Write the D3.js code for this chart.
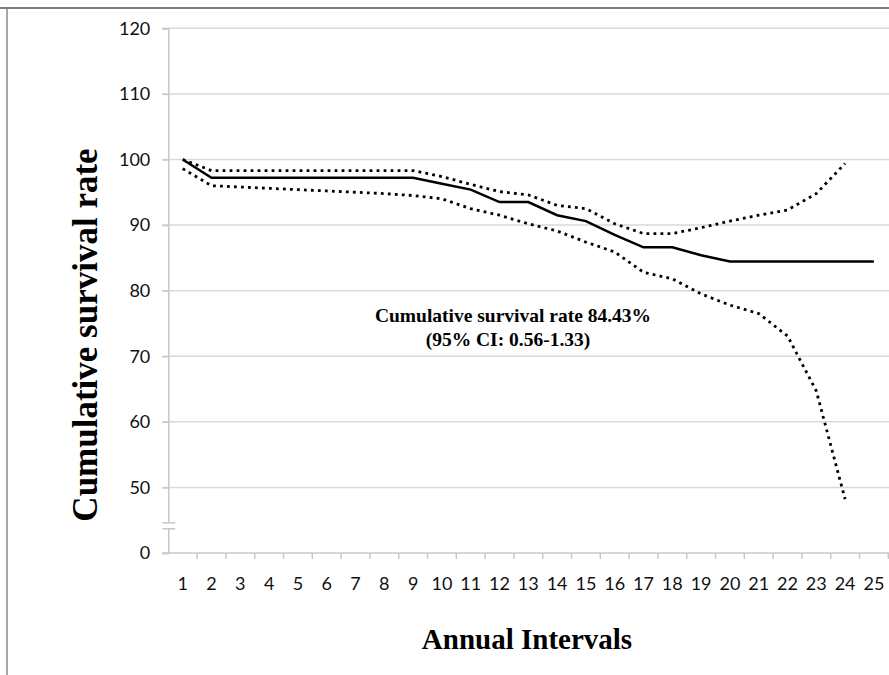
<!DOCTYPE html>
<html><head><meta charset="utf-8">
<script src="https://cdn.jsdelivr.net/npm/d3@7"></script>
<style>body{margin:0;background:#fff;} svg{display:block;}</style>
</head><body>
<svg id="chart" width="889" height="675"></svg>
<script>
const years = d3.range(1, 26).map(String);
const survival = [100, 97.2, 97.2, 97.2, 97.2, 97.2, 97.2, 97.2, 97.2, 96.3, 95.4, 93.5, 93.5, 91.5, 90.6, 88.5, 86.6, 86.6, 85.4, 84.43, 84.43, 84.43, 84.43, 84.43, 84.43];
const upperCI = [100, 98.3, 98.3, 98.3, 98.3, 98.3, 98.3, 98.3, 98.3, 97.4, 96.2, 95.1, 94.6, 93.0, 92.5, 90.2, 88.7, 88.7, 89.6, 90.6, 91.5, 92.3, 94.8, 99.4];
const lowerCI = [98.6, 96.0, 95.8, 95.6, 95.4, 95.2, 95.0, 94.8, 94.5, 94.0, 92.5, 91.5, 90.2, 89.1, 87.4, 85.9, 82.8, 81.8, 79.5, 77.8, 76.5, 73.1, 64.7, 48.2];
const yTickValues = [40, 50, 60, 70, 80, 90, 100, 110, 120];
const yTickLabels = ["0", "50", "60", "70", "80", "90", "100", "110", "120"];
const annotation = ["Cumulative survival rate 84.43%", "(95% CI: 0.56-1.33)"];

(function () {
const svg = d3.select("#chart");
const pLeft = 168.3, pRight = 888.3, pTop = 28.3, pBottom = 553;
const tickFont = "Lato, 'Open Sans', sans-serif";
const serif = "'Liberation Serif', 'Times New Roman', serif";

// frame
svg.append("line").attr("x1", 0).attr("x2", 889).attr("y1", 8).attr("y2", 8).attr("stroke", "#555").attr("stroke-width", 1.5);
svg.append("line").attr("x1", 7).attr("x2", 7).attr("y1", 8).attr("y2", 675).attr("stroke", "#777").attr("stroke-width", 1.3);

const x = d3.scaleBand().domain(years).range([pLeft, pRight]);
const y = d3.scaleLinear().domain([40, 120]).range([pBottom, pTop]);

// gridlines
svg.append("g").selectAll("line").data(yTickValues.slice(1)).join("line")
  .attr("x1", pLeft - 6).attr("x2", 889)
  .attr("y1", d => y(d)).attr("y2", d => y(d))
  .attr("stroke", "#d9d9d9").attr("stroke-width", 1.5);

// y axis
const yAxis = svg.append("g").attr("transform", `translate(${pLeft},0)`)
  .call(d3.axisLeft(y).tickValues(yTickValues).tickFormat((d, i) => yTickLabels[i]).tickSize(6).tickPadding(12));
yAxis.select(".domain").attr("stroke", "#c8c8c8").attr("stroke-width", 1.5);
yAxis.selectAll(".tick line").attr("stroke", "#c8c8c8").attr("stroke-width", 1.5);
yAxis.selectAll("text").attr("font-family", tickFont).attr("font-size", 18).attr("fill", "#111");

// x axis
const xAxis = svg.append("g").attr("transform", `translate(0,${pBottom})`)
  .call(d3.axisBottom(x).tickSize(0).tickPadding(24));
xAxis.select(".domain").remove();
svg.append("line").attr("x1", pLeft - 6).attr("x2", 889).attr("y1", pBottom).attr("y2", pBottom)
  .attr("stroke", "#c8c8c8").attr("stroke-width", 1.5);
svg.append("g").selectAll("line").data(years.slice(1).concat(["end"])).join("line")
  .attr("x1", d => d === "end" ? pRight : x(d)).attr("x2", d => d === "end" ? pRight : x(d))
  .attr("y1", pBottom).attr("y2", pBottom + 6)
  .attr("stroke", "#c8c8c8").attr("stroke-width", 1.5);
xAxis.selectAll("text").attr("font-family", tickFont).attr("font-size", 18).attr("fill", "#111");

// axis break
svg.append("rect").attr("x", pLeft - 2).attr("y", y(44.6)).attr("width", 4).attr("height", y(43.7) - y(44.6)).attr("fill", "#fff");
[44.6, 43.7].forEach(v => {
  svg.append("line").attr("x1", pLeft - 6).attr("x2", pLeft + 7).attr("y1", y(v)).attr("y2", y(v))
    .attr("stroke", "#c8c8c8").attr("stroke-width", 1.5);
});

const line = d3.line().x((d, i) => x(years[i]) + x.bandwidth() / 2).y(d => y(d));

svg.append("path").datum(upperCI).attr("d", line).attr("fill", "none")
  .attr("stroke", "#000").attr("stroke-width", 2.8).attr("stroke-dasharray", "2.8,4.2");
svg.append("path").datum(lowerCI).attr("d", line).attr("fill", "none")
  .attr("stroke", "#000").attr("stroke-width", 2.8).attr("stroke-dasharray", "2.8,4.2");
svg.append("path").datum(survival).attr("d", line).attr("fill", "none")
  .attr("stroke", "#000").attr("stroke-width", 2.5);

// annotation
svg.append("text").attr("x", 513).attr("y", 322).attr("text-anchor", "middle")
  .attr("font-family", serif).attr("font-weight", "bold").attr("font-size", 19.5)
  .text(annotation[0]);
svg.append("text").attr("x", 508).attr("y", 346).attr("text-anchor", "middle")
  .attr("font-family", serif).attr("font-weight", "bold").attr("font-size", 19.5)
  .text(annotation[1]);

// axis titles
svg.append("text").attr("transform", "translate(97,335) rotate(-90)").attr("text-anchor", "middle")
  .attr("font-family", serif).attr("font-weight", "bold").attr("font-size", 35)
  .text("Cumulative survival rate");
svg.append("text").attr("x", 527).attr("y", 649).attr("text-anchor", "middle")
  .attr("font-family", serif).attr("font-weight", "bold").attr("font-size", 29)
  .text("Annual Intervals");
})();
</script>
</body></html>
